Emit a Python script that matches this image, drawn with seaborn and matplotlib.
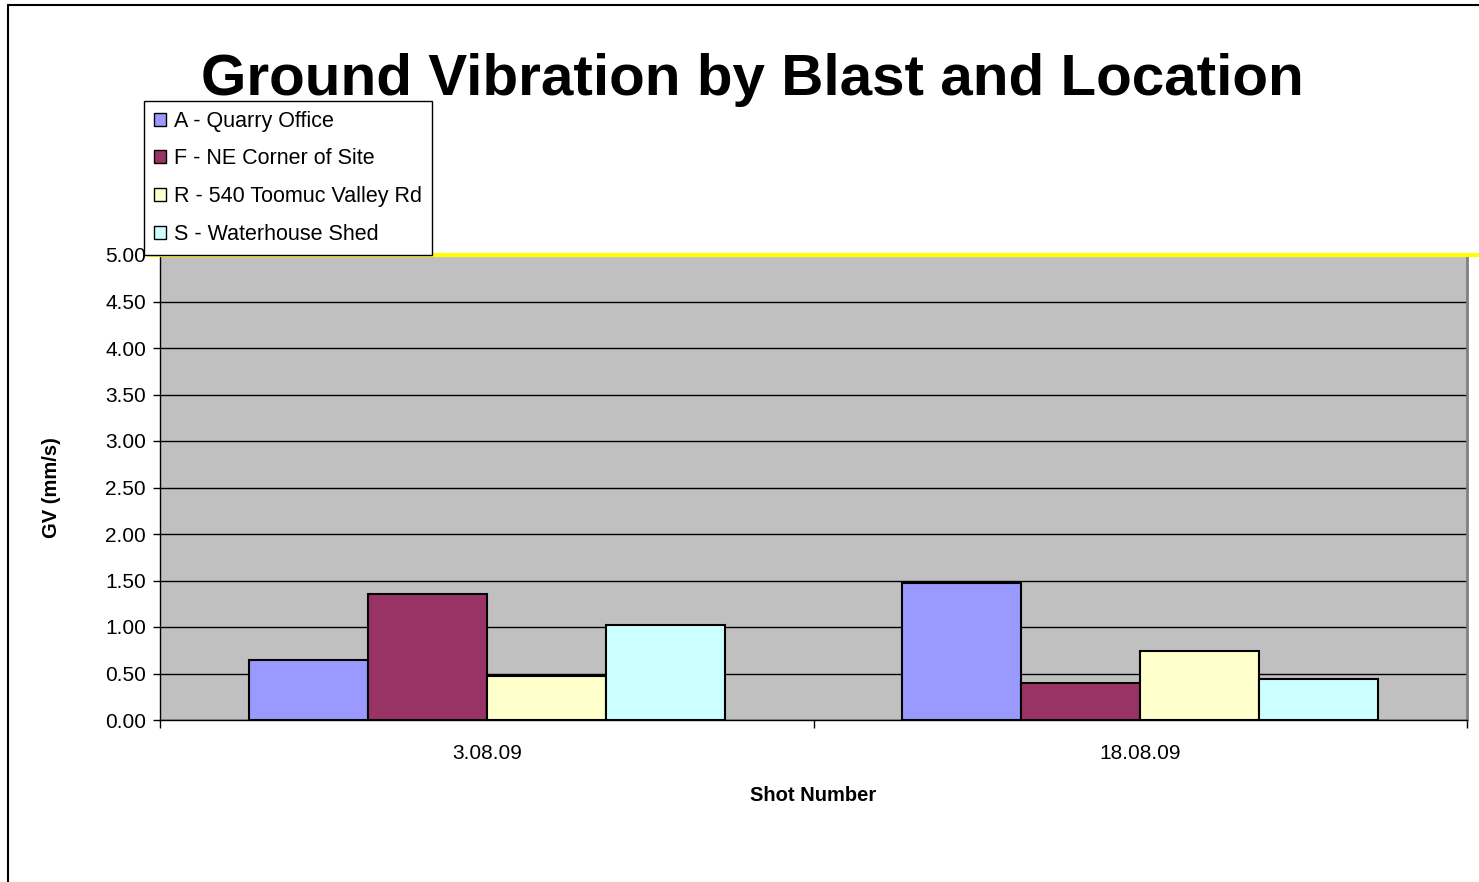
import matplotlib
matplotlib.use("Agg")
import matplotlib.pyplot as plt
import seaborn as sns
import pandas as pd
from matplotlib.patches import Patch
from matplotlib.lines import Line2D

shots = ["3.08.09", "18.08.09"]
locations = ["A - Quarry Office", "F - NE Corner of Site",
             "R - 540 Toomuc Valley Rd", "S - Waterhouse Shed"]
vals_A = [0.64, 1.47]
vals_F = [1.35, 0.40]
vals_R = [0.47, 0.74]
vals_S = [1.02, 0.44]
yticks = [0.0, 0.5, 1.0, 1.5, 2.0, 2.5, 3.0, 3.5, 4.0, 4.5, 5.0]
colors = ["#9999FF", "#993366", "#FFFFCC", "#CCFFFF"]

rows = []
for loc, vals in zip(locations, [vals_A, vals_F, vals_R, vals_S]):
    for s, v in zip(shots, vals):
        rows.append({"Shot": s, "Location": loc, "GV": v})
df = pd.DataFrame(rows)

sns.set_theme(style="white")
plt.rcParams['font.family'] = ['Liberation Sans', 'DejaVu Sans']
plt.rcParams['text.color'] = 'black'
plt.rcParams['axes.labelcolor'] = 'black'
plt.rcParams['xtick.color'] = 'black'
plt.rcParams['ytick.color'] = 'black'

fig = plt.figure(figsize=(14.79, 8.82), dpi=100)
ax = fig.add_axes([160/1479, 1-720/882, (1467-160)/1479, (720-255)/882])
ax.set_facecolor("#C0C0C0")

sns.barplot(data=df, x="Shot", y="GV", hue="Location", order=shots,
            hue_order=locations, palette=colors, width=0.728, gap=0,
            edgecolor="black", linewidth=1.5, ax=ax, legend=False,
            saturation=1)

ax.set_xlim(-0.5, 1.5)
ax.set_ylim(0, 5.0)
ax.set_yticks(yticks)
ax.set_yticklabels([f"{t:.2f}" for t in yticks], fontsize=15)
ax.yaxis.grid(True, color="black", linewidth=1)
ax.set_axisbelow(True)

ax.set_xticks([-0.5, 0.5, 1.5])
ax.set_xticklabels([])
ax.set_xticks([0, 1], minor=True)
ax.set_xticklabels(shots, minor=True, fontsize=15)
ax.tick_params(axis="x", which="major", direction="out", length=6, width=1, color="black", bottom=True)
ax.tick_params(axis="x", which="minor", length=0, pad=17)
ax.tick_params(axis="y", direction="out", length=5, width=1, color="black", left=True, pad=5)

for side in ["left", "bottom"]:
    ax.spines[side].set_color("black")
    ax.spines[side].set_linewidth(1)
ax.spines["right"].set_color("#808080")
ax.spines["right"].set_linewidth(2)
ax.spines["top"].set_visible(False)

ax.axhline(5.0, xmin=-0.008, xmax=1.02, color="#FFFF00", linewidth=3, clip_on=False, zorder=5)

ax.set_xlabel("Shot Number", fontsize=14.5, fontweight="bold", labelpad=17)
ax.set_ylabel("GV (mm/s)", fontsize=14.5, fontweight="bold", labelpad=32)

fig.text(752/1479, 1-95/882, "Ground Vibration by Blast and Location",
         fontsize=42, fontweight="bold", ha="center", va="baseline", color="black")

handles = [Patch(facecolor=c, edgecolor="black", linewidth=1) for c in colors]
leg = fig.legend(handles, locations, loc="upper left",
                 bbox_to_anchor=(144/1479, 1-101/882), bbox_transform=fig.transFigure,
                 fontsize=15.5, frameon=True, fancybox=False, edgecolor="black",
                 framealpha=1, borderpad=0.45, handlelength=0.55, handleheight=0.55,
                 handletextpad=0.4, labelspacing=0.78, borderaxespad=0)
leg.get_frame().set_linewidth(1)

# figure border (left and top)
fig.add_artist(Line2D([8/1479, 8/1479], [0, 1-5/882], color="black", linewidth=1.5, transform=fig.transFigure))
fig.add_artist(Line2D([8/1479, 1], [1-5/882, 1-5/882], color="black", linewidth=1.5, transform=fig.transFigure))

fig.savefig("out.png", dpi=100)
